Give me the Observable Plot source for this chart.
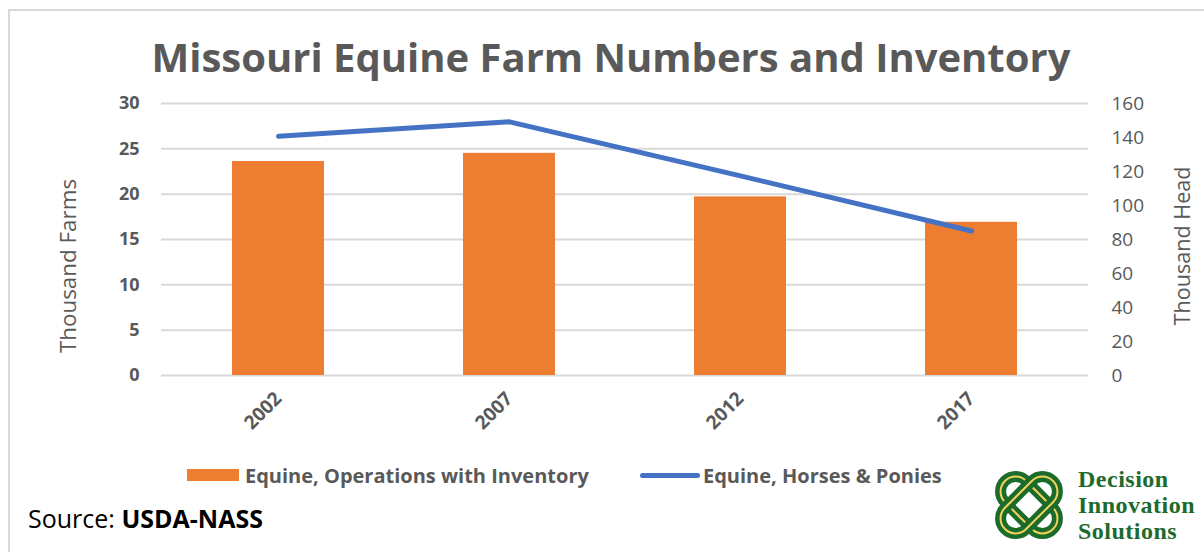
<!DOCTYPE html>
<html>
<head>
<meta charset="utf-8">
<script src="https://cdn.jsdelivr.net/npm/d3@7"></script>
<script src="https://cdn.jsdelivr.net/npm/@observablehq/plot@0.6"></script>
<style>
  html, body { margin: 0; padding: 0; background: #fff; }
  #root { position: relative; width: 1204px; height: 552px; overflow: hidden; font-family: "Open Sans", Lato, sans-serif; }
  #frame { position: absolute; left: 8px; top: 9px; width: 1210px; height: 560px; border: 2px solid #d9d9d9; box-sizing: border-box; }
  #title { position: absolute; left: 0; width: 1222px; top: 37px; text-align: center; font-size: 40px; font-weight: 700; color: #595959; line-height: 1; white-space: nowrap; }
  #chart { position: absolute; left: 0; top: 80px; }
  .ytitle { position: absolute; color: #595959; white-space: nowrap; transform: translate(-50%, -50%) rotate(-90deg); line-height: 1; }
  #legend { position: absolute; top: 463px; left: 0; width: 1204px; height: 24px; font-size: 20px; font-weight: 700; color: #595959; }
  .lg { position: absolute; top: 0; display: flex; align-items: center; white-space: nowrap; height: 24px; }
  #source { position: absolute; left: 28px; top: 506px; font-size: 25px; line-height: 1; color: #000; white-space: nowrap; }
  #logo { position: absolute; left: 988px; top: 464px; }
  #logotext { position: absolute; left: 1078px; top: 466px; font-family: "Liberation Serif", "DejaVu Serif", serif; font-weight: 700; font-size: 24px; letter-spacing: 0.5px; line-height: 26px; color: #1d6b2c; }
</style>
</head>
<body>
<div id="root">
  <div id="frame"></div>
  <div id="title">Missouri Equine Farm Numbers and Inventory</div>
  <div id="chart"></div>
  <div class="ytitle" style="left:68px; top:266px; font-size:22.4px;">Thousand Farms</div>
  <div class="ytitle" style="left:1182px; top:246px; font-size:21.6px;">Thousand Head</div>
  <div id="legend">
    <div class="lg" style="left:187px;"><span style="display:inline-block;width:52px;height:12px;background:#ED7D31;margin-right:6px;"></span>Equine, Operations with Inventory</div>
    <div class="lg" style="left:640px;"><span style="display:inline-block;width:60px;height:5px;border-radius:3px;background:#4472C4;margin-right:3px;"></span>Equine, Horses &amp; Ponies</div>
  </div>
  <div id="source">Source: <b>USDA-NASS</b></div>
  <svg id="logo" width="84" height="84" viewBox="0 0 84 84">
    <g transform="translate(41,41)">
      <g transform="rotate(45)">
        <rect x="-34" y="-15" width="68" height="30" rx="15" fill="none" stroke="#1b6b2a" stroke-width="11"/>
        <rect x="-34" y="-15" width="68" height="30" rx="15" fill="none" stroke="#f2d25a" stroke-width="2"/>
      </g>
      <g transform="rotate(-45)">
        <rect x="-34" y="-15" width="68" height="30" rx="15" fill="none" stroke="#1b6b2a" stroke-width="11"/>
        <rect x="-34" y="-15" width="68" height="30" rx="15" fill="none" stroke="#f2d25a" stroke-width="2"/>
      </g>
    </g>
  </svg>
  <div id="logotext">Decision<br>Innovation<br>Solutions</div>
</div>
<script>
const years = ["2002", "2007", "2012", "2017"];
const farms = [23.6, 24.5, 19.7, 16.9];        // thousand farms (left axis)
const head = [140.7, 149.2, 117.4, 85.0];      // thousand head (right axis)
const leftTicks = [0, 5, 10, 15, 20, 25, 30];
const rightTicks = [0, 20, 40, 60, 80, 100, 120, 140, 160];

const leftMax = 30, rightMax = 160;
const toLeft = v => v * leftMax / rightMax;
const data = years.map((y, i) => ({year: y, farms: farms[i], head: head[i]}));

const chart = Plot.plot({
  width: 1204,
  height: 370,
  marginLeft: 161,
  marginRight: 116,
  marginTop: 23,
  marginBottom: 75,
  style: {color: "#595959", fontFamily: "'Open Sans', sans-serif", background: "transparent"},
  x: {type: "band", domain: years, paddingInner: 0.6, paddingOuter: 0.3},
  y: {domain: [0, leftMax]},
  marks: [
    Plot.gridY(leftTicks, {stroke: "#d9d9d9", strokeWidth: 2, strokeOpacity: 1}),
    Plot.barY(data, {x: "year", y: "farms", fill: "#ED7D31"}),
    Plot.line(data, {x: "year", y: d => toLeft(d.head), stroke: "#4472C4", strokeWidth: 5, strokeLinecap: "round", strokeLinejoin: "round"}),
    Plot.axisY(leftTicks, {anchor: "left", tickSize: 0, tickPadding: 22, fontSize: 18, fontWeight: "bold", label: null}),
    Plot.axisY(rightTicks.map(toLeft), {anchor: "right", tickSize: 0, tickPadding: 23, fontSize: 19, label: null, tickFormat: d => String(Math.round(d * rightMax / leftMax))}),
    Plot.axisX({tickSize: 0, tickPadding: 20, tickRotate: -45, fontSize: 19, fontWeight: "bold", label: null})
  ]
});
document.getElementById("chart").appendChild(chart);
</script>
</body>
</html>
